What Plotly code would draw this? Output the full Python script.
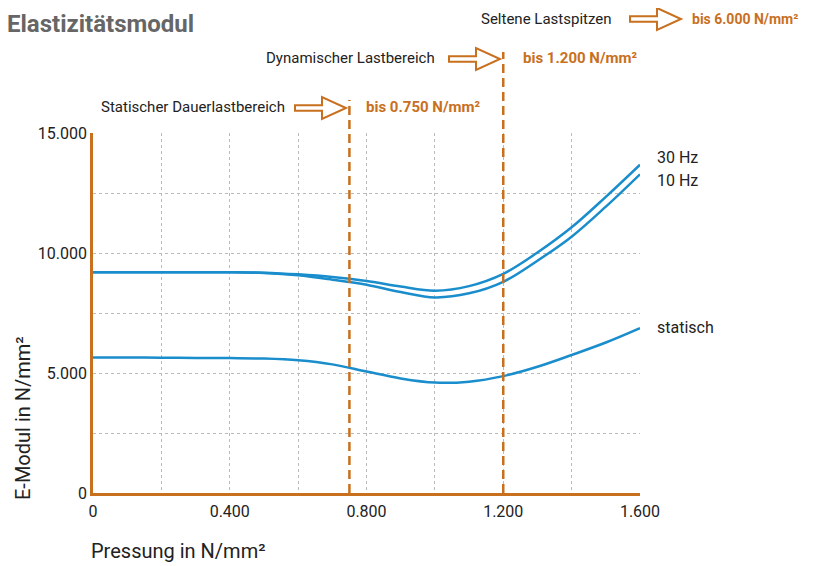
import plotly.graph_objects as go

# ---- data ----
pressure = [0.0, 0.1, 0.2, 0.3, 0.4, 0.5, 0.6, 0.7, 0.8, 0.9, 1.0, 1.1, 1.2, 1.3, 1.4, 1.5, 1.6]
e_30hz = [9200, 9200, 9200, 9200, 9200, 9180, 9110, 9000, 8830, 8600, 8430, 8620, 9130, 10020, 11070, 12340, 13680]
e_10hz = [9200, 9200, 9200, 9200, 9200, 9170, 9070, 8890, 8680, 8375, 8150, 8320, 8800, 9680, 10680, 11930, 13280]
e_static = [5650, 5645, 5640, 5630, 5620, 5600, 5530, 5360, 5060, 4775, 4600, 4640, 4870, 5260, 5750, 6270, 6870]
series_names = ["30 Hz", "10 Hz", "statisch"]
limits = [0.75, 1.2]

x_tickvals = [0, 0.4, 0.8, 1.2, 1.6]
x_ticktext = ["0", "0.400", "0.800", "1.200", "1.600"]
y_tickvals = [0, 5000, 10000, 15000]
y_ticktext = ["0", "5.000", "10.000", "15.000"]

# ---- style ----
OFF = 8  # page body margin
W, H = 814 - OFF, 566 - OFF
L, T = 93 - OFF, 133 - OFF
PW, PH = 640 - 93, 493 - 133
R, B = W - L - PW, H - T - PH
ORANGE = "#c8701e"
BLUE = "#1a8dcc"
FONT = "Roboto"
TXT = "#222222"


def px(x):
    return (x - OFF - L) / PW


def py(y):
    return (T + PH - (y - OFF)) / PH


fig = go.Figure()
for name, vals in zip(series_names, [e_30hz, e_10hz, e_static]):
    fig.add_trace(go.Scatter(x=pressure, y=vals, mode="lines", name=name,
                             line=dict(color=BLUE, width=2.5, shape="spline", smoothing=1.0),
                             showlegend=False, hoverinfo="skip"))

shapes = []
tops = [100, 52]
for xv, top in zip(limits, tops):
    shapes.append(dict(type="line", xref="x", yref="paper", x0=xv, x1=xv, y0=0, y1=py(top),
                       line=dict(color=ORANGE, width=2.5, dash="9px,5px"), layer="above"))


def arrow(left, cy):
    length, body, bh, hh = 51, 27, 2.8, 11
    pts = [(left, cy - bh), (left + body, cy - bh), (left + body, cy - hh), (left + length, cy),
           (left + body, cy + hh), (left + body, cy + bh), (left, cy + bh)]
    d = "M " + " L ".join(f"{px(a):.5f},{py(b):.5f}" for a, b in pts) + " Z"
    return dict(type="path", xref="paper", yref="paper", path=d,
                line=dict(color=ORANGE, width=2), fillcolor="rgba(0,0,0,0)")


shapes += [arrow(295, 108), arrow(449, 59), arrow(630, 19)]

ann = []


def text(t, x, y, size=15, color=TXT, anchor="left", bold=False, yanchor="middle"):
    ann.append(dict(text=f"<b>{t}</b>" if bold else t, xref="paper", yref="paper",
                    x=px(x), y=py(y), xanchor=anchor, yanchor=yanchor, showarrow=False,
                    font=dict(family=FONT, size=size, color=color)))


text("Elastizitätsmodul", 5, 8, size=24, color="#666666", bold=True, yanchor="top")
text("Seltene Lastspitzen", 614, 19, anchor="right")
text("bis 6.000 N/mm²", 690, 19, size=14, color=ORANGE, bold=True)
text("Dynamischer Lastbereich", 437, 58, anchor="right")
text("bis 1.200 N/mm²", 521, 58, color=ORANGE, bold=True)
text("Statischer Dauerlastbereich", 287, 107, anchor="right")
text("bis 0.750 N/mm²", 364, 107, color=ORANGE, bold=True)
text("30 Hz", 655, 157, size=16)
text("10 Hz", 655, 180, size=16)
text("statisch", 655, 327, size=16)
text("Pressung in N/mm²", 89, 551, size=20)
ann.append(dict(text="E-Modul in N/mm²", xref="paper", yref="paper", x=px(9), y=py(418),
                xanchor="left", yanchor="middle", showarrow=False, textangle=-90,
                font=dict(family=FONT, size=20, color=TXT)))

grid = dict(showgrid=True, gridcolor="#bbbbbb", griddash="dot", gridwidth=1)
fig.update_layout(
    width=W, height=H, margin=dict(l=L, r=R, t=T, b=B, autoexpand=False),
    paper_bgcolor="white", plot_bgcolor="white",
    font=dict(family=FONT, size=15, color=TXT),
    shapes=shapes, annotations=ann,
    xaxis=dict(range=[0, 1.6], tickvals=x_tickvals, ticktext=x_ticktext,
               showline=True, linecolor=ORANGE, linewidth=2.5, ticks="", ticklen=0,
               minor=dict(dtick=0.2, **grid), **grid,
               zeroline=False, tickfont=dict(size=16, color=TXT), ticklabelstandoff=2),
    yaxis=dict(range=[0, 15000], tickvals=y_tickvals, ticktext=y_ticktext,
               showline=True, linecolor=ORANGE, linewidth=2.5, ticks="", ticklen=0,
               minor=dict(tick0=0, dtick=2500, **grid), **grid,
               zeroline=False, tickfont=dict(size=16, color=TXT), ticklabelstandoff=0),
)

fig.write_html("out.html")
